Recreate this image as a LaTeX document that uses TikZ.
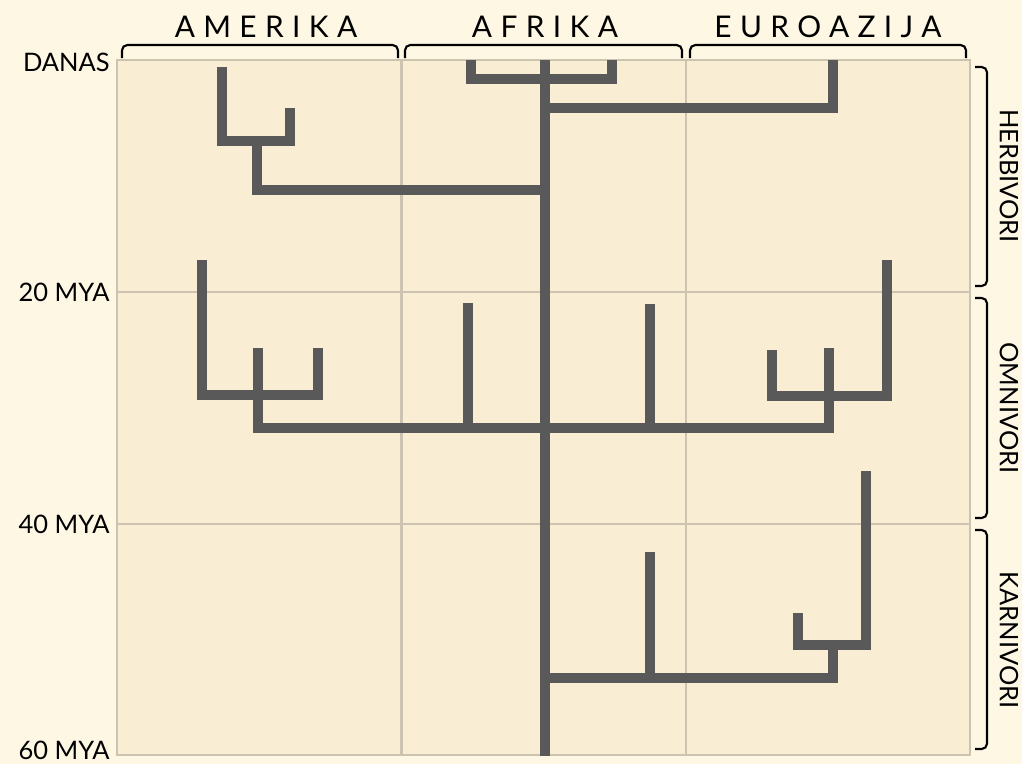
\documentclass[tikz,border=0pt]{standalone}
\usepackage{fontspec}
\setmainfont{Lato}
\newfontfamily\spacedfont{Lato}[LetterSpace=28]
\usetikzlibrary{positioning}
\definecolor{page}{HTML}{FEF7E4}
\definecolor{plotbg}{HTML}{F9EED4}
\definecolor{gridc}{HTML}{CCC4B0}
\definecolor{branch}{HTML}{595959}
\tikzset{
  tree/.style={draw=branch, line width=5.6pt, line join=miter},
  gridline/.style={draw=gridc, line width=1.5pt},
  brace/.style={draw=black, line width=1.2pt, rounded corners=3pt},
  region/.style={font=\spacedfont\fontsize{17}{20}\selectfont, inner sep=0pt},
  timelbl/.style={anchor=east, font=\fontsize{14.5}{16}\selectfont, inner sep=0pt},
  dietlbl/.style={rotate=-90, font=\fontsize{14.5}{16}\selectfont, inner sep=0pt}
}

\begin{document}
\begin{tikzpicture}[x=0.02cm, y=-0.02cm]
  \useasboundingbox[fill=page] (0,0) rectangle (1022,764);
  % plot area and grid
  \fill[plotbg] (117,60) rectangle (970,755);
  \foreach \gx in {401.5,686} \draw[gridline] (\gx,60) -- (\gx,755);
  \foreach \gy in {292,524} \draw[gridline] (117,\gy) -- (970,\gy);
  \draw[gridline] (117,60) rectangle (970,755);

  % regions on top
  \draw[brace] (122,58) -- (122,45) -- (398,45) -- (398,58);
  \draw[brace] (405,58) -- (405,45) -- (682,45) -- (682,58);
  \draw[brace] (690,58) -- (690,45) -- (966,45) -- (966,58);
  \node[region] (amerika) at (266,27) {AMERIKA};
  \node[region] (afrika) at (545,27) {AFRIKA};
  \node[region] (euroazija) at (828,27) {EUROAZIJA};

  % time axis
  \node[timelbl] (danas) at (110,62) {DANAS};
  \node[timelbl] (mya20) at (110,292) {20 MYA};
  \node[timelbl] (mya40) at (110,524) {40 MYA};
  \node[timelbl] (mya60) at (110,750) {60 MYA};

  % diets on the right
  \draw[brace] (975,67) -- (987,67) -- (987,286) -- (975,286);
  \draw[brace] (975,298) -- (987,298) -- (987,518) -- (975,518);
  \draw[brace] (975,530) -- (987,530) -- (987,749) -- (975,749);
  \node[dietlbl] (herbivori) at (1009,176) {HERBIVORI};
  \node[dietlbl] (omnivori) at (1009,408) {OMNIVORI};
  \node[dietlbl] (karnivori) at (1009,640) {KARNIVORI};

  % tree
  \draw[tree] (545,60) -- (545,756);
  % herbivori
  \draw[tree] (471,60) -- (471,79) -- (612,79) -- (612,60);
  \draw[tree] (545,108) -- (833,108) -- (833,60);
  \draw[tree] (222,67) -- (222,141) -- (290,141) -- (290,108);
  \draw[tree] (257,141) -- (257,190) -- (545,190);
  % omnivori
  \draw[tree] (202,260) -- (202,395) -- (318,395) -- (318,348);
  \draw[tree] (258,348) -- (258,428) -- (829,428) -- (829,348);
  \draw[tree] (468,303) -- (468,428);
  \draw[tree] (650,304) -- (650,428);
  \draw[tree] (772,350) -- (772,396) -- (887,396) -- (887,260);
  % karnivori
  \draw[tree] (545,678) -- (833,678) -- (833,645);
  \draw[tree] (650,552) -- (650,678);
  \draw[tree] (798,613) -- (798,645) -- (866,645) -- (866,471);
\end{tikzpicture}
\end{document}
